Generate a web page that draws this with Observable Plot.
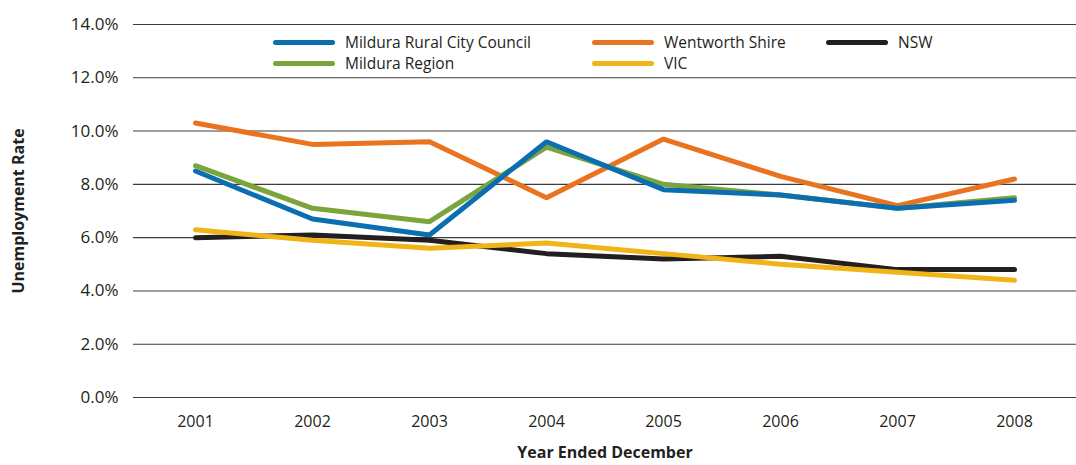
<!DOCTYPE html>
<html>
<head>
<meta charset="utf-8">
<script src="https://cdn.jsdelivr.net/npm/d3@7"></script>
<script src="https://cdn.jsdelivr.net/npm/@observablehq/plot@0.6"></script>
<style>
  html, body { margin: 0; padding: 0; background: #fff; }
  #wrap { position: relative; width: 1076px; height: 465px; font-family: "Open Sans", sans-serif; color: #231f20; }
  .lg { position: absolute; display: flex; align-items: center; font-size: 15.5px; white-space: nowrap; }
  .lg .sw { width: 62px; height: 5px; border-radius: 3px; margin-right: 10px; }
</style>
</head>
<body>
<div id="wrap"></div>
<script>
const years = ["2001","2002","2003","2004","2005","2006","2007","2008"];
const seriesNames = ["Mildura Rural City Council","Wentworth Shire","NSW","Mildura Region","VIC"];
const seriesColors = ["#0a6eb0","#e9731f","#231f20","#7ba43a","#f0b418"];
const milduraRCC = [8.5, 6.7, 6.1, 9.6, 7.8, 7.6, 7.1, 7.4];
const wentworth  = [10.3, 9.5, 9.6, 7.5, 9.7, 8.3, 7.2, 8.2];
const nsw        = [6.0, 6.1, 5.9, 5.4, 5.2, 5.3, 4.8, 4.8];
const milduraReg = [8.7, 7.1, 6.6, 9.4, 8.0, 7.6, 7.1, 7.5];
const vic        = [6.3, 5.9, 5.6, 5.8, 5.4, 5.0, 4.7, 4.4];
const yTicks = [0, 2, 4, 6, 8, 10, 12, 14];

const valuesBySeries = {
  "Mildura Rural City Council": milduraRCC,
  "Wentworth Shire": wentworth,
  "NSW": nsw,
  "Mildura Region": milduraReg,
  "VIC": vic
};
const drawOrder = ["NSW","VIC","Wentworth Shire","Mildura Region","Mildura Rural City Council"];
const rows = [];
for (const s of drawOrder) valuesBySeries[s].forEach((v, i) => rows.push({series: s, year: years[i], value: v}));

const chart = Plot.plot({
  width: 1076,
  height: 465,
  marginLeft: 133,
  marginRight: 0,
  marginTop: 24,
  marginBottom: 68,
  style: {fontFamily: "'Open Sans', sans-serif", color: "#231f20", background: "#fff"},
  x: {type: "point", domain: years, padding: 0.5, label: null},
  y: {domain: [0, 14], label: null},
  color: {domain: seriesNames, range: seriesColors},
  marks: [
    Plot.ruleY(yTicks, {stroke: "#3c3c3c", strokeWidth: 1.1}),
    Plot.axisY(yTicks, {tickSize: 0, tickPadding: 15, fontSize: 17, tickFormat: d => d.toFixed(1) + "%", label: null}),
    Plot.axisX(years, {tickSize: 0, tickPadding: 18, fontSize: 16, label: null}),
    Plot.line(rows, {x: "year", y: "value", z: "series", stroke: "series", strokeWidth: 5, strokeLinejoin: "miter", strokeLinecap: "round"}),
    Plot.text(["Year Ended December"], {frameAnchor: "bottom", textAnchor: "middle", dy: 60, fontWeight: "bold", fontSize: 16, fill: "#231f20"}),
    Plot.text(["Unemployment Rate"], {frameAnchor: "left", textAnchor: "middle", dx: -115, rotate: -90, fontWeight: "bold", fontSize: 16, fill: "#231f20"})
  ]
});

const wrap = document.getElementById("wrap");
wrap.appendChild(chart);

const legendPos = [
  {name: "Mildura Rural City Council", left: 273, top: 42},
  {name: "Wentworth Shire", left: 592, top: 42},
  {name: "NSW", left: 826, top: 42},
  {name: "Mildura Region", left: 273, top: 63},
  {name: "VIC", left: 592, top: 63}
];
for (const p of legendPos) {
  const d = document.createElement("div");
  d.className = "lg";
  d.style.left = p.left + "px";
  d.style.top = (p.top - 11) + "px";
  d.style.height = "22px";
  const sw = document.createElement("div");
  sw.className = "sw";
  sw.style.background = seriesColors[seriesNames.indexOf(p.name)];
  const t = document.createElement("span");
  t.textContent = p.name;
  d.appendChild(sw);
  d.appendChild(t);
  wrap.appendChild(d);
}
</script>
</body>
</html>
